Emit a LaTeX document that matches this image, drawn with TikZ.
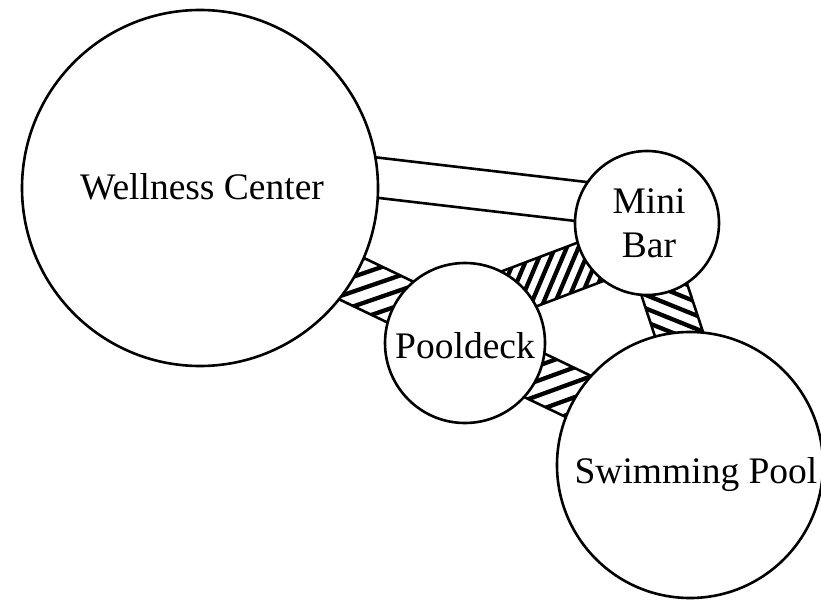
\documentclass[tikz,border=0pt]{standalone}
\usepackage{fontspec}
\setmainfont{Liberation Serif}
\usetikzlibrary{calc}
\pgfdeclarelayer{bg}
\pgfsetlayers{bg,main}
% #1,#2 axis points, #3 half width, #4 hatch angle, #5 hatch spacing, #6 hatch line width
\newcommand\roomband[6]{%
  \begin{scope}
    \clip ($(#1)!#3!90:(#2)$) -- ($(#2)!#3!-90:(#1)$) -- ($(#2)!#3!90:(#1)$) -- ($(#1)!#3!-90:(#2)$) -- cycle;
    \begin{scope}[shift={($(#1)!0.5!(#2)$)},rotate=#4]
      \foreach \k in {-14,...,14} \draw[line width=#6] (-220,\k*#5) -- (220,\k*#5);
    \end{scope}
  \end{scope}
  \draw[edgeline] ($(#1)!#3!90:(#2)$) -- ($(#2)!#3!-90:(#1)$) -- ($(#2)!#3!90:(#1)$) -- ($(#1)!#3!-90:(#2)$) -- cycle;}
\begin{document}
\begin{tikzpicture}[x=1pt,y=-1pt,
  room/.style={circle,draw=black,fill=white,line width=2.6pt,inner sep=0pt},
  lbl/.style={anchor=base,font=\fontsize{37.5}{44}\selectfont,inner sep=0pt},
  edgeline/.style={draw=black,line width=2.6pt}]
\useasboundingbox (0,0) rectangle (821,604);
% rooms
\node[room,minimum size=356pt] (wc) at (200,188) {};
\node[room,minimum size=160pt] (pd) at (465,343) {};
\node[room,minimum size=144pt] (mb) at (647,223) {};
\node[room,minimum size=266pt] (sp) at (690,465) {};
% labels
\node[lbl] (wct) at (202,200) {Wellness Center};
\node[lbl] (pdt) at (465,358) {Pooldeck};
\node[lbl] (mbt1) at (649,213) {Mini};
\node[lbl] (mbt2) at (649,257) {Bar};
\node[lbl] (spt) at (696,483) {Swimming Pool};
% band axis points
\coordinate (e1) at ($(wc.center)+(100,-19.4)$);
\coordinate (e2) at ($(mb.center)+(-7,-14.6)$);
\coordinate (a1) at ($(wc.center)+(50,41.9)$);
\coordinate (a2) at ($(pd.center)+(-15,-17.1)$);
\coordinate (b1) at ($(pd.center)+(5,-35.6)$);
\coordinate (b2) at ($(mb.center)+(-7,20.1)$);
\coordinate (c1) at ($(pd.center)+(15,6.2)$);
\coordinate (c2) at ($(sp.center)+(-50,-39)$);
\coordinate (d1) at ($(mb.center)+(0.9,17)$);
\coordinate (d2) at ($(sp.center)+(10.7,-65)$);
\begin{pgfonlayer}{bg}
  \draw[edgeline] ($(e1)!20pt!90:(e2)$) -- ($(e2)!20pt!-90:(e1)$);
  \draw[edgeline] ($(e1)!20pt!-90:(e2)$) -- ($(e2)!20pt!90:(e1)$);
  \roomband{a1}{a2}{24pt}{19}{14}{4.3pt}
  \roomband{b1}{b2}{22.5pt}{67}{10.8}{4.3pt}
  \roomband{c1}{c2}{24pt}{20}{14}{4.3pt}
  \roomband{d1}{d2}{23.5pt}{-22}{12.5}{4.3pt}
\end{pgfonlayer}
\end{tikzpicture}
\end{document}
